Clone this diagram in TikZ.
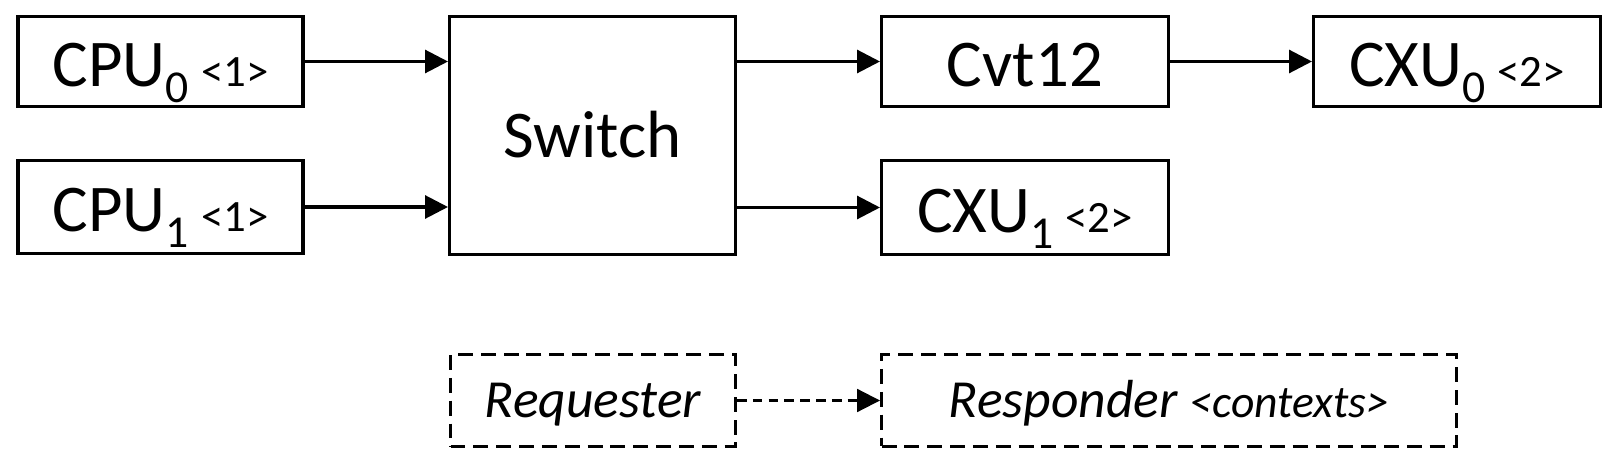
\documentclass[tikz,border=0pt]{standalone}
\usepackage{fontspec}
\setmainfont{Carlito}
\usetikzlibrary{arrows.meta}
\newcommand\subx[1]{\smash{\raisebox{-9.3pt}{\fontsize{26}{28}\selectfont #1}}}
\newcommand\ctxt[1]{{\fontsize{25.5}{26}\selectfont #1}}
\begin{document}
\begin{tikzpicture}[x=0.02cm,y=-0.02cm,
  box/.style={draw,line width=1.75pt,inner sep=0pt,align=center,
    font=\fontsize{38}{40}\selectfont,text height=24.5pt,text depth=0pt},
  lowtext/.style={text height=28pt},
  dbox/.style={draw,line width=1.75pt,dash pattern=on 8.5pt off 4.5pt,inner sep=0pt,
    font=\fontsize{30.5}{32}\selectfont\itshape,text height=19.6pt,text depth=0pt},
  conn/.style={line width=1.75pt,-{Triangle[length=13pt,width=13pt]}},
  dconn/.style={line width=1.2pt,dash pattern=on 5.5pt off 3.5pt,-{Triangle[length=13pt,width=13pt]}}]
\useasboundingbox (0,0) rectangle (1616,466);

\node[box,lowtext,minimum width=5.7cm,minimum height=1.8cm] (cpu0) at (160.5,61.5) {CPU\subx{0}\hspace{7pt}\ctxt{<1>}};
\node[box,lowtext,minimum width=5.7cm,minimum height=1.86cm] (cpu1) at (160.5,207) {CPU\subx{1}\hspace{7pt}\ctxt{<1>}};
\node[box,minimum width=5.72cm,minimum height=4.76cm] (sw) at (592.5,135.5) {Switch};
\node[box,lowtext,minimum width=5.74cm,minimum height=1.8cm] (cvt) at (1025,61.5) {Cvt12};
\node[box,lowtext,minimum width=5.74cm,minimum height=1.8cm] (cxu0) at (1457,61.5) {CXU\subx{0}\hspace{7pt}\ctxt{<2>}};
\node[box,lowtext,minimum width=5.74cm,minimum height=1.88cm] (cxu1) at (1025,207.5) {CXU\subx{1}\hspace{7pt}\ctxt{<2>}};

\node[dbox,minimum width=5.7cm,minimum height=1.84cm] (req) at (593,400.5) {Requester};
\node[dbox,minimum width=11.5cm,minimum height=1.84cm] (resp) at (1169,400.5) {Responder {\fontsize{26}{27}\selectfont <contexts>}};

\draw[conn] (cpu0.east) -- (sw.west |- cpu0.east);
\draw[conn] (cpu1.east) -- (sw.west |- cpu1.east);
\draw[conn] (sw.east |- cvt.west) -- (cvt.west);
\draw[conn] (sw.east |- cxu1.west) -- (cxu1.west);
\draw[conn] (cvt.east) -- (cxu0.west);
\draw[dconn] (req.east) -- (resp.west);
\end{tikzpicture}
\end{document}
